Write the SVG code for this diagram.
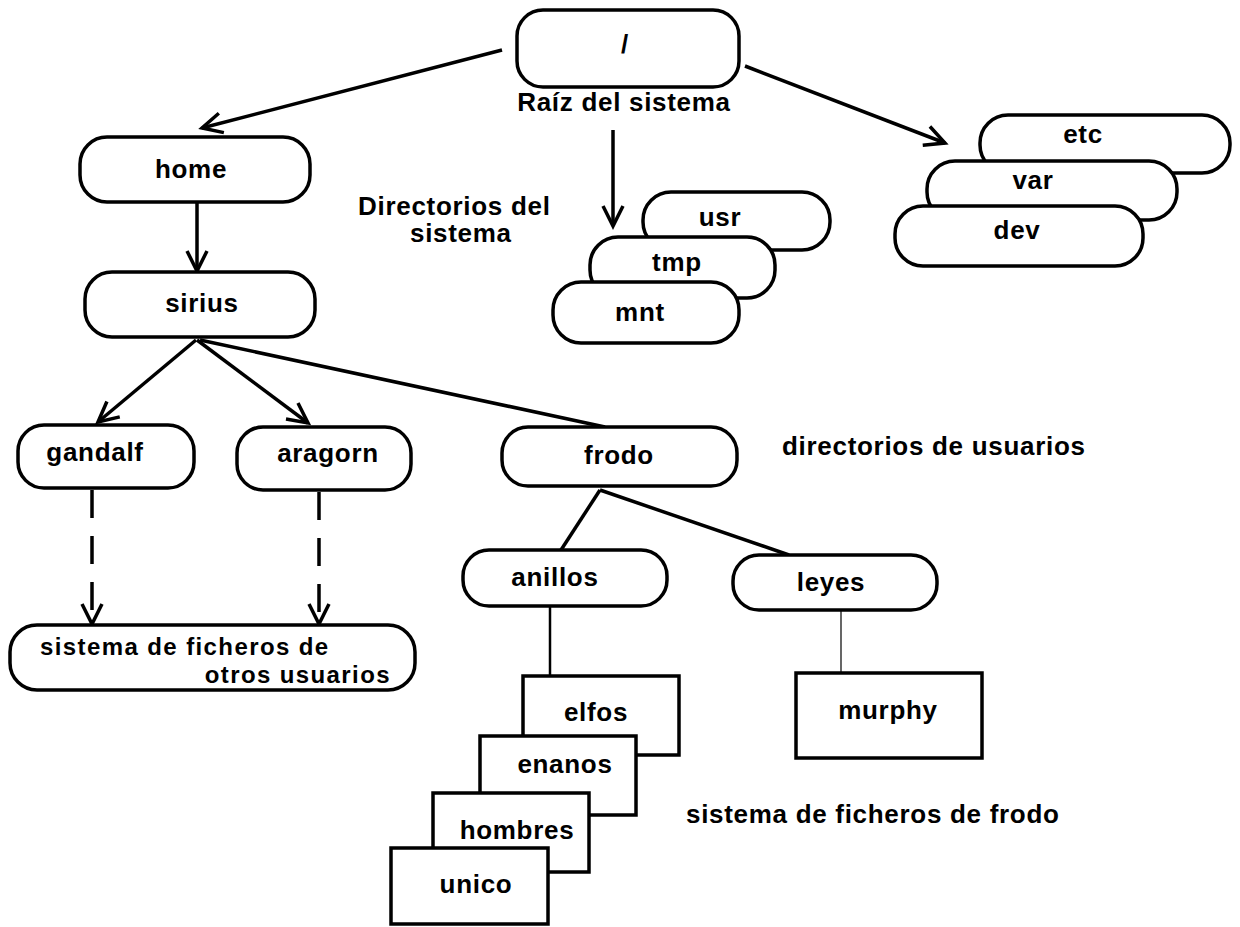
<svg xmlns="http://www.w3.org/2000/svg" width="1240" height="927" viewBox="0 0 1240 927">
<style>
  .n { fill: #fff; stroke: #000; stroke-width: 3.5; }
  .t { font-family: "Liberation Sans", Arial, sans-serif; font-weight: bold; font-size: 26px; letter-spacing: 0.7px; fill: #000; }
  .s { font-size: 24px; letter-spacing: 1.4px; }
  .c { text-anchor: middle; }
  .e { stroke: #000; stroke-width: 3.5; fill: none; }
  .d { stroke-dasharray: 28 18; }
</style>
<defs>
  <marker id="v" viewBox="0 0 24 22" refX="22" refY="11" markerWidth="24" markerHeight="22" markerUnits="userSpaceOnUse" orient="auto" overflow="visible">
    <path d="M2,1 L22,11 L2,21" fill="none" stroke="#000" stroke-width="3.5"/>
  </marker>
</defs>
<rect width="1240" height="927" fill="#fff"/>

<g id="connectors">
  <line class="e" x1="502" y1="50" x2="202" y2="128" marker-end="url(#v)"/>
  <line class="e" x1="745" y1="66" x2="945" y2="143" marker-end="url(#v)"/>
  <line class="e" x1="613" y1="130" x2="613" y2="226" marker-end="url(#v)"/>
  <line class="e" x1="197" y1="203" x2="197" y2="271" marker-end="url(#v)"/>
  <line class="e" x1="196" y1="340" x2="98" y2="422" marker-end="url(#v)"/>
  <line class="e" x1="197" y1="340" x2="308" y2="423" marker-end="url(#v)"/>
  <line class="e" x1="200" y1="340" x2="605" y2="427"/>
  <line class="e d" x1="92" y1="490" x2="92" y2="624" marker-end="url(#v)"/>
  <line class="e d" x1="319" y1="492" x2="319" y2="624" marker-end="url(#v)"/>
  <line class="e" x1="600" y1="490" x2="561" y2="550"/>
  <line class="e" x1="600" y1="490" x2="789" y2="555"/>
  <line stroke="#000" stroke-width="2.5" x1="550" y1="606" x2="550" y2="676"/>
  <line stroke="#000" stroke-width="1.2" x1="841" y1="610" x2="841" y2="673"/>
</g>

<g id="root">
  <rect class="n" x="517" y="10" width="222" height="77" rx="26"/>
  <text class="t c" x="625" y="53">/</text>
</g>
<text class="t c" x="624" y="111">Raíz del sistema</text>

<g id="etc"><rect class="n" x="980" y="115" width="250" height="58" rx="28"/><text class="t c" x="1083" y="143">etc</text></g>
<g id="var"><rect class="n" x="927" y="161" width="250" height="59" rx="28"/><text class="t c" x="1033" y="189">var</text></g>
<g id="dev"><rect class="n" x="895" y="206" width="248" height="60" rx="28"/><text class="t c" x="1017" y="239">dev</text></g>

<g id="usr"><rect class="n" x="643" y="192" width="187" height="58" rx="28"/><text class="t c" x="720" y="226">usr</text></g>
<g id="tmp"><rect class="n" x="590" y="237" width="185" height="61" rx="28"/><text class="t c" x="677" y="271">tmp</text></g>
<g id="mnt"><rect class="n" x="553" y="282" width="186" height="61" rx="28"/><text class="t c" x="640" y="321">mnt</text></g>

<text class="t" x="358" y="215">Directorios del</text>
<text class="t" x="410" y="242">sistema</text>

<g id="home"><rect class="n" x="80" y="137" width="230" height="65" rx="27"/><text class="t c" x="191" y="178">home</text></g>
<g id="sirius"><rect class="n" x="85" y="272" width="230" height="65" rx="27"/><text class="t c" x="202" y="312">sirius</text></g>

<g id="gandalf"><rect class="n" x="18" y="425" width="176" height="63" rx="26"/><text class="t c" x="95" y="461">gandalf</text></g>
<g id="aragorn"><rect class="n" x="237" y="427" width="174" height="63" rx="26"/><text class="t c" x="328" y="462">aragorn</text></g>
<g id="frodo"><rect class="n" x="502" y="427" width="235" height="59" rx="26"/><text class="t c" x="619" y="464">frodo</text></g>

<text class="t" x="782" y="455">directorios de usuarios</text>

<g id="otros"><rect class="n" x="10" y="625" width="405" height="65" rx="27"/>
  <text class="t s" x="40" y="655">sistema de ficheros de</text>
  <text class="t s" x="391" y="683" text-anchor="end">otros usuarios</text>
</g>

<g id="anillos"><rect class="n" x="463" y="550" width="204" height="56" rx="26"/><text class="t c" x="555" y="586">anillos</text></g>
<g id="leyes"><rect class="n" x="733" y="555" width="204" height="55" rx="26"/><text class="t c" x="831" y="591">leyes</text></g>

<g id="elfos"><rect class="n" x="523" y="676" width="156" height="79"/><text class="t c" x="596" y="721">elfos</text></g>
<g id="enanos"><rect class="n" x="480" y="736" width="156" height="79"/><text class="t c" x="565" y="773">enanos</text></g>
<g id="hombres"><rect class="n" x="433" y="793" width="156" height="79"/><text class="t c" x="517" y="839">hombres</text></g>
<g id="unico"><rect class="n" x="391" y="848" width="157" height="76"/><text class="t c" x="476" y="893">unico</text></g>

<g id="murphy"><rect class="n" x="796" y="673" width="186" height="85"/><text class="t c" x="888" y="719">murphy</text></g>

<text class="t" x="686" y="823">sistema de ficheros de frodo</text>
</svg>
